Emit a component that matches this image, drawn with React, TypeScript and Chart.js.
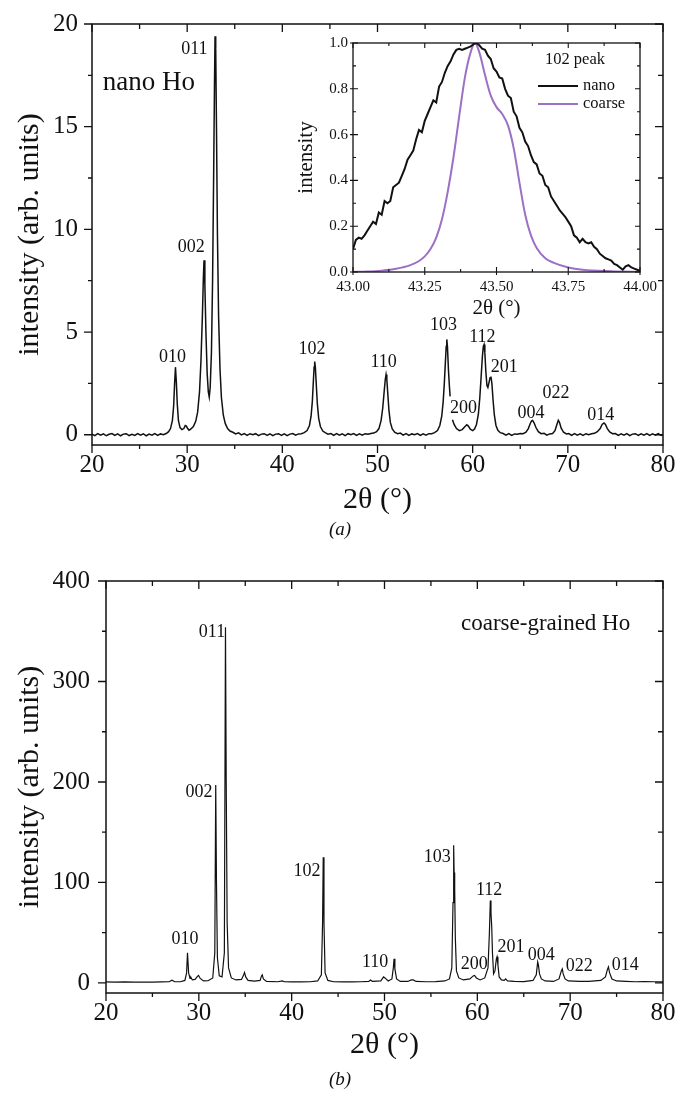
import React, { useEffect, useRef } from 'react';
import { Chart, registerables } from 'chart.js';

Chart.register(...registerables);

const SERIF = '"Liberation Serif", "Times New Roman", serif';
const INK = '#111111';
const PURPLE = '#9c70c4';

// ---------- panel (a): nano Ho pattern, [2θ, intensity] ----------
const NANO_XRD: [number, number | null][] = [
  [20.0, 0.03], [20.3, -0.04], [20.6, 0.05], [20.9, -0.02], [21.2, 0.04], [21.5, -0.05], [21.8, 0.02], [22.1, 0.06],
  [22.4, -0.03], [22.7, 0.04], [23.0, -0.05], [23.3, 0.03], [23.6, 0.05], [23.9, -0.04], [24.2, 0.02], [24.5, -0.03],
  [24.8, 0.05], [25.1, -0.02], [25.4, 0.04], [25.7, -0.05], [26.0, 0.03], [26.3, -0.02], [26.6, 0.05], [26.9, -0.03],
  [27.2, 0.04], [27.5, 0.0], [27.8, 0.06], [28.05, 0.15], [28.25, 0.3], [28.45, 0.7], [28.58, 1.4], [28.68, 2.5],
  [28.77, 3.29], [28.86, 2.6], [28.96, 1.5], [29.08, 0.7], [29.25, 0.35], [29.45, 0.25], [29.65, 0.3], [29.8, 0.45],
  [29.92, 0.42], [30.05, 0.3], [30.2, 0.22], [30.4, 0.28], [30.65, 0.4], [30.9, 0.65], [31.1, 1.1], [31.3, 2.1],
  [31.45, 3.6], [31.6, 5.8], [31.7, 7.6], [31.77, 8.5], [31.86, 7.3], [31.97, 5.0], [32.1, 3.0], [32.22, 2.1],
  [32.32, 1.84], [32.42, 2.3], [32.55, 4.0], [32.67, 7.5], [32.78, 12.5], [32.87, 17.0], [32.93, 19.4], [33.0, 18.8],
  [33.08, 15.0], [33.18, 9.8], [33.3, 5.8], [33.45, 3.2], [33.6, 1.8], [33.8, 0.95], [34.0, 0.55], [34.25, 0.3],
  [34.5, 0.18], [34.8, 0.12], [35.1, 0.04], [35.4, 0.09], [35.7, -0.01], [36.0, 0.06], [36.3, -0.03], [36.6, 0.05],
  [36.9, 0.0], [37.2, 0.05], [37.5, -0.04], [37.8, 0.03], [38.1, 0.05], [38.4, -0.03], [38.7, 0.04], [39.0, -0.04],
  [39.3, 0.03], [39.6, 0.05], [39.9, -0.03], [40.2, 0.04], [40.5, -0.04], [40.8, 0.03], [41.1, 0.06], [41.4, -0.02],
  [41.7, 0.04], [42.0, 0.05], [42.3, 0.1], [42.6, 0.2], [42.85, 0.45], [43.02, 0.9], [43.15, 1.6], [43.26, 2.6],
  [43.34, 3.3], [43.4, 3.56], [43.47, 3.3], [43.56, 2.5], [43.68, 1.5], [43.82, 0.8], [44.0, 0.4], [44.25, 0.18],
  [44.5, 0.1], [44.8, 0.03], [45.1, 0.06], [45.4, -0.03], [45.7, 0.05], [46.0, -0.02], [46.3, 0.04], [46.6, -0.04],
  [46.9, 0.05], [47.2, 0.0], [47.5, 0.06], [47.8, -0.03], [48.1, 0.04], [48.4, -0.02], [48.7, 0.05], [49.0, 0.02],
  [49.3, 0.06], [49.6, 0.08], [49.9, 0.15], [50.15, 0.3], [50.38, 0.7], [50.55, 1.3], [50.7, 2.1], [50.82, 2.7],
  [50.9, 2.93], [50.98, 2.7], [51.08, 2.0], [51.2, 1.2], [51.35, 0.6], [51.55, 0.28], [51.8, 0.12], [52.1, 0.05],
  [52.4, 0.08], [52.7, -0.02], [53.0, 0.05], [53.3, -0.03], [53.6, 0.04], [53.9, 0.0], [54.2, 0.06], [54.5, -0.03],
  [54.8, 0.04], [55.1, -0.02], [55.4, 0.05], [55.7, 0.05], [56.0, 0.1], [56.3, 0.2], [56.55, 0.45], [56.75, 0.9],
  [56.9, 1.6], [57.02, 2.5], [57.13, 3.5], [57.22, 4.3], [57.28, 4.64], [57.35, 4.3], [57.45, 3.2], [57.55, 2.4],
  [57.63, 1.87], [57.7, null], [57.88, 0.73], [58.05, 0.5], [58.3, 0.3], [58.6, 0.2], [58.9, 0.25], [59.15, 0.38],
  [59.38, 0.49], [59.55, 0.42], [59.75, 0.27], [60.0, 0.2], [60.2, 0.28], [60.4, 0.5], [60.6, 1.0], [60.75, 1.8],
  [60.9, 2.9], [61.02, 3.8], [61.12, 4.3], [61.2, 4.39], [61.28, 4.0], [61.38, 3.1], [61.5, 2.4], [61.6, 2.3],
  [61.72, 2.55], [61.83, 2.78], [61.92, 2.83], [62.02, 2.5], [62.14, 1.7], [62.28, 0.95], [62.45, 0.45], [62.65, 0.22],
  [62.9, 0.1], [63.2, 0.06], [63.5, -0.02], [63.8, 0.05], [64.1, -0.03], [64.4, 0.04], [64.7, 0.02], [65.0, 0.06],
  [65.3, 0.05], [65.6, 0.12], [65.85, 0.3], [66.05, 0.55], [66.2, 0.68], [66.3, 0.7], [66.45, 0.58], [66.65, 0.35],
  [66.9, 0.15], [67.2, 0.05], [67.5, 0.07], [67.8, -0.02], [68.1, 0.04], [68.4, 0.06], [68.65, 0.2], [68.85, 0.5],
  [69.0, 0.7], [69.12, 0.6], [69.3, 0.32], [69.55, 0.12], [69.85, 0.04], [70.1, 0.06], [70.4, -0.03], [70.7, 0.05],
  [71.0, -0.02], [71.3, 0.04], [71.6, -0.03], [71.9, 0.05], [72.2, 0.0], [72.5, 0.05], [72.8, 0.07], [73.1, 0.15],
  [73.4, 0.3], [73.6, 0.5], [73.8, 0.57], [73.95, 0.5], [74.15, 0.3], [74.4, 0.14], [74.7, 0.05], [75.0, 0.06],
  [75.3, -0.03], [75.6, 0.04], [75.9, -0.02], [76.2, 0.05], [76.5, -0.04], [76.8, 0.03], [77.1, 0.05], [77.4, -0.03],
  [77.7, 0.04], [78.0, -0.02], [78.3, 0.05], [78.6, -0.03], [78.9, 0.04], [79.2, -0.02], [79.5, 0.05], [79.8, -0.03],
  [80.0, 0.02],
];

// ---------- panel (b): coarse-grained Ho pattern ----------
const COARSE_XRD: [number, number][] = [
  [20, 1.0], [21, 0.8], [22, 1.0], [23, 0.8], [24, 0.9], [25, 0.8], [26, 1.0], [26.8, 1.2], [27.1, 2.8], [27.4, 1.2],
  [28.0, 1.2], [28.5, 2.5], [28.68, 10], [28.78, 30], [28.9, 10], [29.05, 4.5], [29.15, 5.5], [29.3, 3], [29.6, 3.5],
  [29.85, 6.5], [29.97, 7.5], [30.15, 4.5], [30.5, 2], [31.0, 2.2], [31.5, 5], [31.72, 30], [31.82, 197], [31.9, 100],
  [32.0, 25], [32.2, 7], [32.5, 6], [32.75, 30], [32.87, 354], [32.95, 200], [33.05, 60], [33.2, 15], [33.5, 5],
  [34.0, 3], [34.6, 3.5], [34.82, 8], [34.92, 10.5], [35.05, 6], [35.3, 2.5], [36.0, 1.8], [36.6, 2.5], [36.75, 7],
  [36.83, 8], [36.95, 4], [37.3, 1.5], [38.5, 1.2], [39.0, 2], [39.2, 1.2], [40, 1.0], [41, 1.0], [42, 1.2], [42.8, 2],
  [43.2, 8], [43.33, 60], [43.4, 125], [43.48, 60], [43.6, 10], [43.9, 2.5], [44.5, 1.2], [45.5, 1.0], [46.5, 1.0],
  [47.5, 1.2], [48.3, 1.5], [48.5, 3], [48.7, 1.5], [49.6, 2], [49.9, 6], [50.05, 5], [50.4, 2], [50.8, 4], [50.95, 15],
  [51.03, 24], [51.12, 14], [51.3, 4], [51.7, 1.5], [52.5, 1.5], [52.9, 3], [53.1, 3], [53.4, 1.5], [54.5, 1.2],
  [55.5, 1.3], [56.5, 2], [57.0, 4], [57.25, 15], [57.38, 80], [57.45, 137], [57.5, 110], [57.56, 94], [57.63, 45],
  [57.75, 12], [58.0, 5], [58.5, 3], [59.2, 4], [59.55, 7], [59.7, 7.5], [59.9, 5], [60.3, 3], [60.8, 5], [61.15, 15],
  [61.3, 50], [61.4, 82], [61.47, 70], [61.55, 56], [61.63, 30], [61.75, 9], [61.9, 12], [62.05, 24], [62.12, 26],
  [62.22, 18], [62.35, 6], [62.6, 3], [62.9, 2.5], [63.05, 4], [63.25, 2], [64.0, 1.5], [65.0, 1.3], [66.0, 2.5],
  [66.35, 8], [66.5, 21], [66.58, 18], [66.7, 9], [66.9, 4], [67.3, 2], [68.2, 1.5], [68.8, 4], [69.05, 12],
  [69.15, 14], [69.25, 9], [69.45, 4], [69.8, 2], [71, 1.5], [72, 1.5], [73.3, 2.5], [73.8, 6], [74.0, 13],
  [74.12, 16], [74.25, 10], [74.5, 4], [75.0, 2], [76, 1.5], [77, 1.2], [78, 1.3], [79, 1.2], [80, 1.0],
];

// ---------- inset: normalised 102 peak ----------
const INSET_NANO: [number, number][] = [
  [43.0, 0.10], [43.01, 0.14], [43.02, 0.15], [43.03, 0.145], [43.04, 0.16], [43.05, 0.18], [43.06, 0.2], [43.07, 0.22],
  [43.08, 0.21], [43.09, 0.26], [43.1, 0.25], [43.11, 0.31], [43.12, 0.30], [43.13, 0.31], [43.14, 0.37], [43.15, 0.38],
  [43.16, 0.39], [43.17, 0.42], [43.18, 0.45], [43.19, 0.49], [43.2, 0.51], [43.21, 0.53], [43.22, 0.58], [43.23, 0.62],
  [43.24, 0.61], [43.25, 0.66], [43.26, 0.69], [43.27, 0.72], [43.28, 0.75], [43.29, 0.74], [43.3, 0.81], [43.31, 0.83],
  [43.32, 0.87], [43.33, 0.9], [43.34, 0.92], [43.35, 0.95], [43.36, 0.97], [43.37, 0.975], [43.38, 0.97], [43.39, 0.975],
  [43.40, 0.98], [43.41, 0.985], [43.42, 0.995], [43.43, 1.0], [43.44, 0.99], [43.45, 0.975], [43.46, 0.97], [43.47, 0.945],
  [43.48, 0.93], [43.49, 0.89], [43.5, 0.875], [43.51, 0.85], [43.52, 0.845], [43.53, 0.80], [43.54, 0.77], [43.55, 0.76],
  [43.56, 0.70], [43.57, 0.68], [43.58, 0.63], [43.59, 0.61], [43.60, 0.57], [43.61, 0.55], [43.62, 0.51], [43.63, 0.48],
  [43.64, 0.47], [43.65, 0.43], [43.66, 0.42], [43.67, 0.38], [43.68, 0.37], [43.69, 0.33], [43.70, 0.31], [43.71, 0.29],
  [43.72, 0.27], [43.73, 0.255], [43.74, 0.24], [43.75, 0.22], [43.76, 0.2], [43.77, 0.16], [43.78, 0.15], [43.79, 0.13],
  [43.80, 0.145], [43.81, 0.13], [43.82, 0.125], [43.83, 0.13], [43.84, 0.11], [43.85, 0.10], [43.86, 0.08], [43.87, 0.07],
  [43.88, 0.06], [43.89, 0.055], [43.90, 0.05], [43.91, 0.035], [43.92, 0.03], [43.93, 0.02], [43.94, 0.01], [43.95, 0.025],
  [43.96, 0.03], [43.97, 0.02], [43.98, 0.015], [43.99, 0.01], [44.0, 0.005],
];
const INSET_COARSE: [number, number][] = [
  [43.0, 0.0], [43.05, 0.002], [43.1, 0.006], [43.15, 0.014], [43.2, 0.03], [43.23, 0.048], [43.25, 0.068], [43.27, 0.1],
  [43.29, 0.15], [43.31, 0.23], [43.33, 0.35], [43.35, 0.5], [43.37, 0.68], [43.39, 0.85], [43.41, 0.96], [43.425, 1.0],
  [43.44, 0.96], [43.46, 0.86], [43.48, 0.77], [43.5, 0.72], [43.52, 0.69], [43.54, 0.64], [43.56, 0.54], [43.58, 0.39],
  [43.6, 0.25], [43.62, 0.16], [43.64, 0.105], [43.67, 0.06], [43.7, 0.04], [43.75, 0.02], [43.8, 0.01], [43.9, 0.003],
  [44.0, 0.0],
];

// ---------- ticks ----------
const X_MAJOR = [20, 30, 40, 50, 60, 70, 80];
const X_MINOR = [25, 35, 45, 55, 65, 75];
const YA_MAJOR = [0, 5, 10, 15, 20];
const YA_MINOR = [2.5, 7.5, 12.5, 17.5];
const YB_MAJOR = [0, 100, 200, 300, 400];
const YB_MINOR = [50, 150, 250, 350];
const XI_MAJOR = [43.0, 43.25, 43.5, 43.75, 44.0];
const XI_MINOR = [43.125, 43.375, 43.625, 43.875];
const YI_MAJOR = [0, 0.2, 0.4, 0.6, 0.8, 1.0];
const YI_MINOR = [0.1, 0.3, 0.5, 0.7, 0.9];

// ---------- reflection labels (hkl) and their anchors in data coordinates ----------
const HKL = ['010', '002', '011', '102', '110', '103', '200', '112', '201', '004', '022', '014'];
const HKL_AT_A: [number, number][] = [
  [28.45, 3.78], [30.43, 9.14], [30.75, 18.78], [43.11, 4.17], [50.65, 3.54], [56.93, 5.34],
  [59.04, 1.3], [61.02, 4.76], [63.32, 3.3], [66.14, 1.06], [68.76, 2.03], [73.47, 0.96],
];
const HKL_AT_B: [number, number][] = [
  [28.51, 43.8], [30.02, 190], [31.42, 349], [41.66, 111], [48.99, 20.9], [55.67, 125],
  [59.66, 18.9], [61.27, 92.5], [63.64, 35.8], [66.88, 27.9], [70.97, 16.9], [75.93, 17.9],
];

type TickLen = { out: number; inn: number; mirror: number };
type Txt = { text: string; x: number; y: number; align: CanvasTextAlign; font: string; color?: string };
type DecoCfg = {
  xMajor: number[]; xMinor: number[]; yMajor: number[]; yMinor: number[];
  major: TickLen; minor: TickLen; frame: number; tickWidth: number;
  dataTexts: Txt[];
  pixelTexts: Txt[];
  legend?: { x0: number; x1: number; y: number; color: string; text: string; font: string }[];
};

function deco(cfg: DecoCfg) {
  return {
    id: 'deco',
    afterDraw(chart: any) {
      const { ctx, chartArea: a, scales } = chart;
      const xs = scales.x;
      const ys = scales.y;
      ctx.save();
      ctx.strokeStyle = INK;
      ctx.lineWidth = cfg.frame;
      ctx.strokeRect(a.left, a.top, a.right - a.left, a.bottom - a.top);
      ctx.lineWidth = cfg.tickWidth;
      ctx.beginPath();
      const xt = (vals: number[], L: TickLen) => {
        vals.forEach((v) => {
          const p = xs.getPixelForValue(v);
          ctx.moveTo(p, a.bottom + L.out);
          ctx.lineTo(p, a.bottom - L.inn);
          ctx.moveTo(p, a.top);
          ctx.lineTo(p, a.top + L.mirror);
        });
      };
      const yt = (vals: number[], L: TickLen) => {
        vals.forEach((v) => {
          const p = ys.getPixelForValue(v);
          ctx.moveTo(a.left - L.out, p);
          ctx.lineTo(a.left + L.inn, p);
          ctx.moveTo(a.right, p);
          ctx.lineTo(a.right - L.mirror, p);
        });
      };
      xt(cfg.xMajor, cfg.major);
      xt(cfg.xMinor, cfg.minor);
      yt(cfg.yMajor, cfg.major);
      yt(cfg.yMinor, cfg.minor);
      ctx.stroke();

      ctx.textBaseline = 'middle';
      cfg.dataTexts.forEach((t) => {
        ctx.font = t.font;
        ctx.fillStyle = t.color || INK;
        ctx.textAlign = t.align;
        ctx.fillText(t.text, xs.getPixelForValue(t.x), ys.getPixelForValue(t.y));
      });
      cfg.pixelTexts.forEach((t) => {
        ctx.font = t.font;
        ctx.fillStyle = t.color || INK;
        ctx.textAlign = t.align;
        ctx.fillText(t.text, t.x, t.y);
      });
      (cfg.legend || []).forEach((l) => {
        ctx.strokeStyle = l.color;
        ctx.lineWidth = 2;
        ctx.beginPath();
        ctx.moveTo(l.x0, l.y);
        ctx.lineTo(l.x1, l.y);
        ctx.stroke();
        ctx.font = l.font;
        ctx.fillStyle = INK;
        ctx.textAlign = 'left';
        ctx.fillText(l.text, l.x1 + 5, l.y);
      });
      ctx.restore();
    },
  };
}

type AxisCfg = {
  min: number; max: number; ticks: number[]; fmt: (v: number) => string;
  size: number; tl: number; pad: number; fit: number; horizontal: boolean;
  title: string; titleSize: number; titlePad: any;
};

function axis(c: AxisCfg) {
  return {
    type: 'linear',
    position: c.horizontal ? 'bottom' : 'left',
    min: c.min,
    max: c.max,
    afterBuildTicks: (s: any) => {
      s.ticks = c.ticks.map((v) => ({ value: v }));
    },
    afterFit: (s: any) => {
      if (c.horizontal) s.height = c.fit;
      else s.width = c.fit;
    },
    ticks: {
      font: { family: SERIF, size: c.size },
      color: INK,
      padding: c.pad,
      maxRotation: 0,
      minRotation: 0,
      autoSkip: false,
      callback: (v: any) => c.fmt(Number(v)),
    },
    grid: { display: true, drawOnChartArea: false, drawTicks: true, tickLength: c.tl, color: 'rgba(0,0,0,0)' },
    border: { display: false },
    title: { display: true, text: c.title, font: { family: SERIF, size: c.titleSize }, color: INK, padding: c.titlePad },
  };
}

const asPoints = (arr: [number, number | null][]) => arr.map(([x, y]) => ({ x, y }));
const hklTexts = (at: [number, number][]): Txt[] =>
  HKL.map((t, i) => ({ text: t, x: at[i][0], y: at[i][1], align: 'center' as CanvasTextAlign, font: `18px ${SERIF}` }));

function makePanelA(cv: HTMLCanvasElement) {
  return new Chart(cv, {
    type: 'line',
    data: {
      datasets: [
        { data: asPoints(NANO_XRD) as any, borderColor: INK, borderWidth: 1.5, pointRadius: 0, tension: 0, spanGaps: false },
      ],
    },
    options: {
      responsive: false,
      animation: false,
      layout: { padding: { left: 0, right: 15, top: 24, bottom: 0 } },
      plugins: { legend: { display: false }, tooltip: { enabled: false } },
      scales: {
        x: axis({ min: 20, max: 80, ticks: X_MAJOR, fmt: (v) => String(v), size: 25, tl: 5, pad: 0, fit: 105, horizontal: true,
          title: '2θ (°)', titleSize: 30, titlePad: { top: 0, bottom: 32 } }),
        y: axis({ min: -0.5, max: 20, ticks: YA_MAJOR, fmt: (v) => String(v), size: 25, tl: 8, pad: 6, fit: 92, horizontal: false,
          title: 'intensity (arb. units)', titleSize: 30, titlePad: { top: 12, bottom: 0 } }),
      } as any,
    },
    plugins: [
      deco({
        xMajor: X_MAJOR, xMinor: X_MINOR, yMajor: YA_MAJOR, yMinor: YA_MINOR,
        major: { out: 8, inn: 0, mirror: 8 }, minor: { out: 4, inn: 0, mirror: 5 }, frame: 1.5, tickWidth: 1.3,
        dataTexts: [
          ...hklTexts(HKL_AT_A),
          { text: 'nano Ho', x: 21.12, y: 17.12, align: 'left', font: `27px ${SERIF}` },
        ],
        pixelTexts: [{ text: '(a)', x: 340, y: 530, align: 'center', font: `italic 19px ${SERIF}` }],
      }) as any,
    ],
  });
}

function makePanelB(cv: HTMLCanvasElement) {
  return new Chart(cv, {
    type: 'line',
    data: {
      datasets: [
        { data: asPoints(COARSE_XRD) as any, borderColor: INK, borderWidth: 1.2, pointRadius: 0, tension: 0 },
      ],
    },
    options: {
      responsive: false,
      animation: false,
      layout: { padding: { left: 0, right: 15, top: 31, bottom: 0 } },
      plugins: { legend: { display: false }, tooltip: { enabled: false } },
      scales: {
        x: axis({ min: 20, max: 80, ticks: X_MAJOR, fmt: (v) => String(v), size: 25, tl: 5, pad: 0, fit: 107, horizontal: true,
          title: '2θ (°)', titleSize: 30, titlePad: { top: 0, bottom: 37 } }),
        y: axis({ min: -10, max: 400, ticks: YB_MAJOR, fmt: (v) => String(v), size: 25, tl: 8, pad: 8, fit: 106, horizontal: false,
          title: 'intensity (arb. units)', titleSize: 30, titlePad: { top: 12, bottom: 0 } }),
      } as any,
    },
    plugins: [
      deco({
        xMajor: X_MAJOR, xMinor: X_MINOR, yMajor: YB_MAJOR, yMinor: YB_MINOR,
        major: { out: 8, inn: 0, mirror: 8 }, minor: { out: 4, inn: 0, mirror: 5 }, frame: 1.5, tickWidth: 1.3,
        dataTexts: [
          ...hklTexts(HKL_AT_B),
          { text: 'coarse-grained Ho', x: 76.47, y: 357, align: 'right', font: `23px ${SERIF}` },
        ],
        pixelTexts: [{ text: '(b)', x: 340, y: 530, align: 'center', font: `italic 19px ${SERIF}` }],
      }) as any,
    ],
  });
}

function makeInset(cv: HTMLCanvasElement) {
  return new Chart(cv, {
    type: 'line',
    data: {
      datasets: [
        { data: asPoints(INSET_NANO) as any, borderColor: INK, borderWidth: 2, pointRadius: 0, tension: 0 },
        { data: asPoints(INSET_COARSE) as any, borderColor: PURPLE, borderWidth: 2, pointRadius: 0, cubicInterpolationMode: 'monotone' },
      ],
    },
    options: {
      responsive: false,
      animation: false,
      layout: { padding: { left: 0, right: 25, top: 15, bottom: 0 } },
      plugins: { legend: { display: false }, tooltip: { enabled: false } },
      scales: {
        x: axis({ min: 43, max: 44, ticks: XI_MAJOR, fmt: (v) => v.toFixed(2), size: 15, tl: 3, pad: 3, fit: 56, horizontal: true,
          title: '2θ (°)', titleSize: 21, titlePad: { top: 0, bottom: 7 } }),
        y: axis({ min: 0, max: 1, ticks: YI_MAJOR, fmt: (v) => v.toFixed(1), size: 15, tl: 3, pad: 2, fit: 63, horizontal: false,
          title: 'intensity', titleSize: 21, titlePad: { top: 4, bottom: 0 } }),
      } as any,
    },
    plugins: [
      deco({
        xMajor: XI_MAJOR, xMinor: XI_MINOR, yMajor: YI_MAJOR, yMinor: YI_MINOR,
        major: { out: 3, inn: 5, mirror: 5 }, minor: { out: 0, inn: 3, mirror: 3 }, frame: 1.3, tickWidth: 1.1,
        dataTexts: [],
        pixelTexts: [{ text: '102 peak', x: 285, y: 32, align: 'center', font: `16.5px ${SERIF}` }],
        legend: [
          { x0: 248, x1: 288, y: 58, color: INK, text: 'nano', font: `16.5px ${SERIF}` },
          { x0: 248, x1: 288, y: 76, color: PURPLE, text: 'coarse', font: `16.5px ${SERIF}` },
        ],
      }) as any,
    ],
  });
}

export default function App() {
  const refA = useRef<HTMLCanvasElement>(null);
  const refB = useRef<HTMLCanvasElement>(null);
  const refI = useRef<HTMLCanvasElement>(null);

  useEffect(() => {
    const charts = [makePanelA(refA.current!), makePanelB(refB.current!), makeInset(refI.current!)];
    return () => charts.forEach((c) => c.destroy());
  }, []);

  return (
    <div style={{ position: 'absolute', left: 0, top: 0, width: 678, height: 1100, background: '#fff' }}>
      <canvas ref={refA} width={678} height={550} style={{ position: 'absolute', left: 0, top: 0, width: 678, height: 550 }} />
      <canvas ref={refB} width={678} height={550} style={{ position: 'absolute', left: 0, top: 550, width: 678, height: 550 }} />
      <canvas ref={refI} width={375} height={300} style={{ position: 'absolute', left: 290, top: 28, width: 375, height: 300 }} />
    </div>
  );
}
